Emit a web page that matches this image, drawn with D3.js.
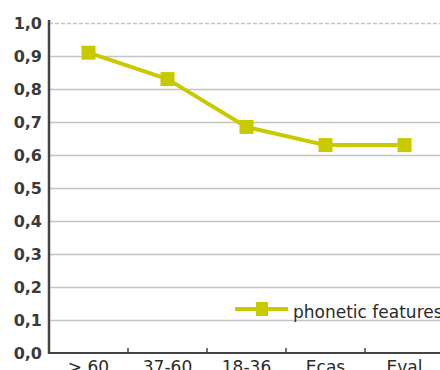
<!DOCTYPE html>
<html>
<head>
<meta charset="utf-8">
<script src="https://cdn.jsdelivr.net/npm/d3@7"></script>
<style>
  html, body { margin: 0; padding: 0; background: #fff; overflow: hidden; }
  svg { display: block; }
  text { font-family: "DejaVu Sans", Verdana, sans-serif; }
</style>
</head>
<body>
<svg id="chart" width="440" height="370"></svg>
<script>
// Age groups / evaluation sets along the x axis
const categories = ["> 60", "37-60", "18-36", "Ecas", "Eval"];
// Share explained by phonetic features
const phoneticFeatures = [0.91, 0.83, 0.685, 0.63, 0.63];
const seriesName = "phonetic features";
// Y axis tick values and their labels (decimal comma)
const yTicks = [0, 0.1, 0.2, 0.3, 0.4, 0.5, 0.6, 0.7, 0.8, 0.9, 1.0];
const yTickLabels = ["0,0", "0,1", "0,2", "0,3", "0,4", "0,5", "0,6", "0,7", "0,8", "0,9", "1,0"];

const svg = d3.select("#chart");
const plot = { left: 49, right: 444, top: 23, bottom: 353 };
const color = "#c9c900";

const x = d3.scaleBand().domain(categories).range([plot.left, plot.right]);
const y = d3.scaleLinear().domain([0, 1]).range([plot.bottom, plot.top]);

// Horizontal gridlines (the top one dashed)
svg.append("g").selectAll("line")
  .data(yTicks.filter(v => v > 0))
  .join("line")
  .attr("x1", plot.left).attr("x2", 440)
  .attr("y1", d => Math.round(y(d)) + 0.5).attr("y2", d => Math.round(y(d)) + 0.5)
  .attr("stroke", "#c4c4c4")
  .attr("stroke-width", 1.5)
  .attr("stroke-dasharray", d => d === 1 ? "4,2" : null);

// Y axis labels
svg.append("g").selectAll("text")
  .data(yTicks)
  .join("text")
  .attr("x", 42)
  .attr("y", d => y(d) + 6)
  .attr("text-anchor", "end")
  .attr("font-size", 16)
  .attr("font-weight", "bold")
  .attr("fill", "#3a3a3a")
  .text((d, i) => yTickLabels[i]);

// Axis lines
svg.append("line")
  .attr("x1", plot.left).attr("x2", plot.left).attr("y1", plot.top - 3).attr("y2", plot.bottom + 1)
  .attr("stroke", "#444").attr("stroke-width", 2.5);
svg.append("line")
  .attr("x1", plot.left).attr("x2", 440).attr("y1", plot.bottom).attr("y2", plot.bottom)
  .attr("stroke", "#444").attr("stroke-width", 2);

// Category boundary ticks on the x axis
svg.append("g").selectAll("line")
  .data(categories.slice(1))
  .join("line")
  .attr("x1", d => x(d)).attr("x2", d => x(d))
  .attr("y1", plot.bottom).attr("y2", plot.bottom - 5)
  .attr("stroke", "#444").attr("stroke-width", 1.5);

// Category labels
svg.append("g").selectAll("text")
  .data(categories)
  .join("text")
  .attr("x", d => x(d) + x.bandwidth() / 2)
  .attr("y", 373)
  .attr("text-anchor", "middle")
  .attr("font-size", 17)
  .attr("fill", "#2a2a2a")
  .text(d => d);

// Series line and square markers
const cx = (d, i) => x(categories[i]) + x.bandwidth() / 2;
svg.append("path")
  .datum(phoneticFeatures)
  .attr("fill", "none")
  .attr("stroke", color)
  .attr("stroke-width", 4)
  .attr("stroke-linejoin", "round")
  .attr("d", d3.line().x(cx).y(d => y(d)));

const ms = 14;
svg.append("g").selectAll("rect")
  .data(phoneticFeatures)
  .join("rect")
  .attr("x", (d, i) => cx(d, i) - ms / 2)
  .attr("y", d => y(d) - ms / 2)
  .attr("width", ms).attr("height", ms)
  .attr("fill", color);

// Legend
const ly = 309;
svg.append("line")
  .attr("x1", 235).attr("x2", 288).attr("y1", ly).attr("y2", ly)
  .attr("stroke", color).attr("stroke-width", 4);
svg.append("rect")
  .attr("x", 262 - 6).attr("y", ly - 7).attr("width", 12).attr("height", 14)
  .attr("fill", color);
svg.append("text")
  .attr("x", 293).attr("y", ly + 9)
  .attr("font-size", 17)
  .attr("fill", "#2a2a2a")
  .text(seriesName);
</script>
</body>
</html>
